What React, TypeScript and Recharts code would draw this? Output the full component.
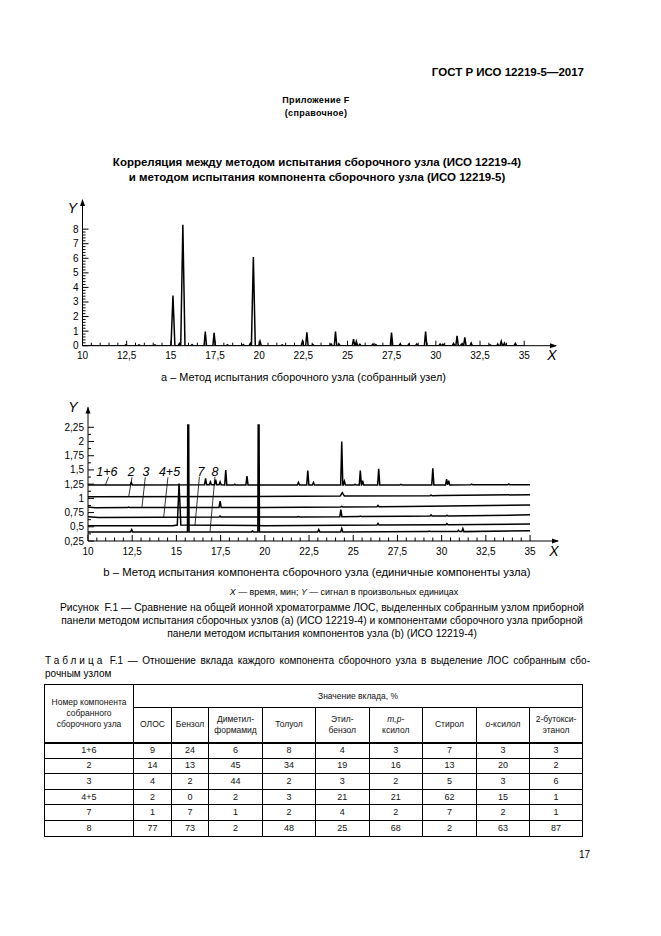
import React from 'react';
import { LineChart, Line, XAxis, YAxis, ReferenceDot, ReferenceLine } from 'recharts';

const FONT = '"Liberation Sans", Arial, Helvetica, sans-serif';

// ---------- рисунок a: собранный узел, пики [время, мин; сигнал; полуширина]
const peaksA: number[][] = [
  [12.45, 0.06], [13.2, 0.05], [14.1, 0.05], [15.12, 3.44, 0.11], [15.48, 0.15],
  [15.68, 8.3, 0.12], [16.2, 0.08], [16.95, 0.97], [17.45, 0.88], [18.2, 0.06],
  [19.1, 0.08], [19.5, 0.15], [19.67, 6.09, 0.11], [20.05, 0.3], [21.3, 0.05],
  [22.45, 0.3], [22.7, 0.92], [23.04, 0.08], [24.07, 0.12], [24.32, 0.97],
  [24.52, 0.1], [25.34, 0.45], [25.5, 0.3], [25.7, 0.1], [26.43, 0.1],
  [26.6, 0.08], [27.49, 0.9], [27.98, 0.12], [28.47, 0.1], [28.92, 0.12],
  [29.42, 0.97], [30.24, 0.12], [30.4, 0.1], [31.0, 0.15], [31.2, 0.67],
  [31.45, 0.1], [31.64, 0.57], [32.0, 0.18], [33.07, 0.06], [33.5, 0.08],
  [33.7, 0.3], [33.88, 0.18], [34.5, 0.15],
];

const xLabels = [10, 12.5, 15, 17.5, 20, 22.5, 25, 27.5, 30, 32.5, 35];
const yLabelsA = [0, 1, 2, 3, 4, 5, 6, 7, 8];
const yLabelsB = [0.25, 0.5, 0.75, 1, 1.25, 1.5, 1.75, 2, 2.25];

// ---------- рисунок b: единичные компоненты
// базовая линия [время; сигнал], пики [время; основание; вершина; полуширина; плато]
const base16 = [[10, 1.235], [20, 1.235], [35, 1.24]];
const peaks16 = [
  [12.45, 1.235, 1.28], [16.65, 1.238, 1.35], [16.92, 1.238, 1.29], [17.22, 1.238, 1.33],
  [17.47, 1.238, 1.29], [17.79, 1.235, 1.5], [18.3, 1.235, 1.25], [18.99, 1.235, 1.39],
  [21.9, 1.235, 1.28], [22.43, 1.235, 1.49], [22.75, 1.235, 1.28], [24.35, 1.235, 2.0],
  [24.5, 1.235, 1.3], [25.1, 1.235, 1.25], [25.4, 1.235, 1.49], [25.53, 1.235, 1.31],
  [26.44, 1.235, 1.52], [27.7, 1.236, 1.245], [29.5, 1.237, 1.53], [30.28, 1.237, 1.34],
  [30.4, 1.237, 1.31], [31.7, 1.238, 1.25], [33.8, 1.239, 1.255],
];
const base2 = [[10, 1.03], [22, 1.035], [30, 1.05], [35, 1.065]];
const peaks2 = [[24.38, 1.04, 1.1, 0.12], [29.4, 1.047, 1.056]];
const base3 = [[10, 0.85], [10.4, 0.836], [20, 0.84], [28, 0.855], [35, 0.885]];
const peaks3 = [[12.3, 0.838, 0.848], [17.47, 0.84, 0.95], [24.35, 0.848, 0.86], [26.4, 0.852, 0.875]];
const base45 = [[10, 0.675], [10.6, 0.665], [20, 0.67], [28, 0.685], [35, 0.71]];
const peaks45 = [
  [17.47, 0.67, 0.69], [21.9, 0.672, 0.68], [24.3, 0.678, 0.8], [25.4, 0.68, 0.69],
  [29.4, 0.69, 0.71], [30.3, 0.69, 0.705],
];
const base7 = [[10, 0.52], [14.8, 0.52], [20, 0.52], [30, 0.535], [35, 0.55]];
const peaks7 = [[15.15, 0.53, 1.26, 0.1], [26.4, 0.53, 0.56], [30.3, 0.535, 0.555]];
const base8 = [[10, 0.41], [20, 0.41], [30, 0.415], [35, 0.43]];
const peaks8 = [
  [12.47, 0.41, 0.45], [15.67, 0.41, 2.29, 0.02, 0.025], [19.3, 0.41, 0.425],
  [19.65, 0.41, 2.29, 0.02, 0.025], [23.05, 0.41, 0.45], [24.35, 0.41, 0.47],
  [29.3, 0.415, 0.425], [30.95, 0.415, 0.44], [31.2, 0.415, 0.47],
];

const traceNames = ['1+6', '2', '3', '4+5', '7', '8'];
const traceBases = [base16, base2, base3, base45, base7, base8];
const tracePeaks = [peaks16, peaks2, peaks3, peaks45, peaks7, peaks8];

// выноски: позиция подписи и отрезок до кривой
const callouts = [
  { tx: 11.07, ty: 1.465, x1: 11.17, y1: 1.38, x2: 10.98, y2: 1.235 },
  { tx: 12.45, ty: 1.465, x1: 12.49, y1: 1.37, x2: 12.3, y2: 1.03 },
  { tx: 13.28, ty: 1.465, x1: 13.24, y1: 1.37, x2: 13.05, y2: 0.84 },
  { tx: 14.61, ty: 1.465, x1: 14.52, y1: 1.37, x2: 14.28, y2: 0.67 },
  { tx: 16.39, ty: 1.465, x1: 16.3, y1: 1.38, x2: 16.05, y2: 0.525 },
  { tx: 17.18, ty: 1.465, x1: 17.18, y1: 1.38, x2: 16.9, y2: 0.415 },
];

// ---------- таблица F.1
const tableHeads = ['ОЛОС', 'Бензол', 'Диметил-|формамид', 'Толуол', 'Этил-|бензол', 'm,p-|ксилол', 'Стирол', 'o-ксилол', '2-бутокси-|этанол'];
const tableComps = ['1+6', '2', '3', '4+5', '7', '8'];
const tableValues = [
  [9, 24, 6, 8, 4, 3, 7, 3, 3],
  [14, 13, 45, 34, 19, 16, 13, 20, 2],
  [4, 2, 44, 2, 3, 2, 5, 3, 6],
  [2, 0, 2, 3, 21, 21, 62, 15, 1],
  [1, 7, 1, 2, 4, 2, 7, 2, 1],
  [77, 73, 2, 48, 25, 68, 2, 63, 87],
];
const colWidths = [89, 38, 37, 54, 53, 53.5, 53.5, 54, 53, 53];

type Pt = { x: number; y: number };

function buildA(peaks: number[][]): Pt[] {
  const pts: Pt[] = [{ x: 10, y: 0 }];
  peaks.forEach(([t, h, hw = 0.07]) => {
    pts.push({ x: t - hw, y: 0 }, { x: t, y: h }, { x: t + hw, y: 0 });
  });
  pts.push({ x: 35, y: 0 });
  return pts;
}

function buildB(base: number[][], peaks: number[][]): Pt[] {
  const pts: Pt[] = base.map(([x, y]) => ({ x, y }));
  peaks.forEach(([t, b, h, hw = 0.06, flat = 0]) => {
    pts.push({ x: t - flat - hw, y: b }, { x: t - flat, y: h });
    if (flat) pts.push({ x: t + flat, y: h });
    pts.push({ x: t + flat + hw, y: b });
  });
  return pts.sort((a, b) => a.x - b.x);
}

const fmt = (v: number) => String(v).replace('.', ',');

const xTicks = Array.from({ length: 51 }, (_, i) => 10 + i * 0.5);
const yTicksA = Array.from({ length: 41 }, (_, i) => Math.round(i * 2) / 10);
const yTicksB = Array.from({ length: 17 }, (_, i) => 0.25 + i * 0.125);

function XTick(props: any) {
  const { x, y, payload, big, small } = props;
  const v = payload.value;
  const major = xLabels.includes(v);
  return (
    <g>
      <line x1={x} x2={x} y1={y} y2={y - (major ? big : small)} stroke="#000" />
      {major && (
        <text x={x} y={y + 13.5} textAnchor="middle" fontSize={10} fontFamily={FONT} fill="#000">
          {fmt(v)}
        </text>
      )}
    </g>
  );
}

function YTick(props: any) {
  const { x, y, payload, labels, big, small } = props;
  const v = payload.value;
  const major = labels.includes(v);
  return (
    <g>
      <line x1={x} x2={x + (major ? big : small)} y1={y} y2={y} stroke="#000" />
      {major && (
        <text x={x - 4} y={y + 3.5} textAnchor="end" fontSize={10} fontFamily={FONT} fill="#000">
          {fmt(v)}
        </text>
      )}
    </g>
  );
}

function XArrow(props: any) {
  const { cx, cy } = props;
  return (
    <g>
      <polygon points={`${cx + 1},${cy} ${cx - 6},${cy - 2.5} ${cx - 6},${cy + 2.5}`} fill="#000" />
      <text x={cx - 4} y={cy + 14.5} textAnchor="middle" fontSize={14} fontStyle="italic" fontFamily={FONT} fill="#000">X</text>
    </g>
  );
}

function YArrow(props: any) {
  const { cx, cy, dx, dy } = props;
  return (
    <g>
      <polygon points={`${cx},${cy - 1} ${cx - 2.5},${cy + 6} ${cx + 2.5},${cy + 6}`} fill="#000" />
      <text x={cx + dx} y={cy + dy} textAnchor="middle" fontSize={14} fontStyle="italic" fontFamily={FONT} fill="#000">Y</text>
    </g>
  );
}

// оси с шириной/высотой 1 px: при 0 Recharts их не рисует
function ChartA() {
  const data = buildA(peaksA);
  return (
    <LineChart width={600} height={180} margin={{ top: 10, right: 44, bottom: 23.3, left: 81.5 }}>
      <XAxis
        type="number" dataKey="x" domain={[10, 36.8]} ticks={xTicks} interval={0} height={1}
        tickSize={0} tickMargin={0} tickLine={false} axisLine={{ stroke: '#000' }} allowDataOverflow
        tick={(p: any) => <XTick {...p} big={5} small={3} />}
      />
      <YAxis
        type="number" dataKey="y" domain={[0, 10]} ticks={yTicksA} interval={0} width={1}
        tickSize={0} tickMargin={0} tickLine={false} axisLine={{ stroke: '#000' }} allowDataOverflow
        tick={(p: any) => <YTick {...p} labels={yLabelsA} big={6} small={3} />}
      />
      <Line data={data} dataKey="y" type="linear" stroke="#000" strokeWidth={1.5} dot={false} isAnimationActive={false} />
      <ReferenceDot x={36.8} y={0} ifOverflow="visible" shape={(p: any) => <XArrow {...p} />} />
      <ReferenceDot x={10} y={10} ifOverflow="visible" shape={(p: any) => <YArrow {...p} dx={-10} dy={13} />} />
    </LineChart>
  );
}

function ChartB() {
  return (
    <LineChart width={600} height={170} margin={{ top: 9.4, right: 42, bottom: 26, left: 87 }}>
      <XAxis
        type="number" dataKey="x" domain={[10, 36.58]} ticks={xTicks} interval={0} height={1}
        tickSize={0} tickMargin={0} tickLine={false} axisLine={{ stroke: '#000' }} allowDataOverflow
        tick={(p: any) => <XTick {...p} big={6} small={3.5} />}
      />
      <YAxis
        type="number" dataKey="y" domain={[0.25, 2.6]} ticks={yTicksB} interval={0} width={1}
        tickSize={0} tickMargin={0} tickLine={false} axisLine={{ stroke: '#000' }} allowDataOverflow
        tick={(p: any) => <YTick {...p} labels={yLabelsB} big={6} small={3} />}
      />
      {traceNames.map((name, i) => (
        <Line
          key={name}
          name={name}
          data={buildB(traceBases[i], tracePeaks[i])}
          dataKey="y"
          type="linear"
          stroke="#000"
          strokeWidth={1.5}
          dot={false}
          isAnimationActive={false}
        />
      ))}
      {callouts.map((c, i) => (
        <ReferenceLine
          key={'l' + i}
          segment={[{ x: c.x1, y: c.y1 }, { x: c.x2, y: c.y2 }]}
          stroke="#000"
          strokeWidth={0.8}
          ifOverflow="visible"
        />
      ))}
      {callouts.map((c, i) => (
        <ReferenceDot
          key={'t' + i}
          x={c.tx}
          y={c.ty}
          ifOverflow="visible"
          shape={(p: any) => (
            <text x={p.cx} y={p.cy + 4.5} textAnchor="middle" fontSize={12.5} fontStyle="italic" fontFamily={FONT} fill="#000">
              {traceNames[i]}
            </text>
          )}
        />
      ))}
      <ReferenceDot x={36.58} y={0.25} ifOverflow="visible" shape={(p: any) => <XArrow {...p} />} />
      <ReferenceDot x={10} y={2.6} ifOverflow="visible" shape={(p: any) => <YArrow {...p} dx={-15} dy={5} />} />
    </LineChart>
  );
}

const line = (top: number, extra: React.CSSProperties): React.CSSProperties => ({
  position: 'absolute',
  top,
  whiteSpace: 'nowrap',
  ...extra,
});

const centered = (cx: number, w = 560): React.CSSProperties => ({ left: cx - w / 2, width: w, textAlign: 'center' });

const cell: React.CSSProperties = {
  border: '1px solid #000',
  padding: 0,
  textAlign: 'center',
  verticalAlign: 'middle',
  fontSize: 8.5,
  lineHeight: '11px',
  color: '#111',
};

function Table() {
  return (
    <table
      style={{
        position: 'absolute',
        left: 44,
        top: 684,
        width: 538,
        borderCollapse: 'collapse',
        tableLayout: 'fixed',
        fontFamily: FONT,
      }}
    >
      <colgroup>
        {colWidths.map((w, i) => (
          <col key={i} style={{ width: w }} />
        ))}
      </colgroup>
      <tbody>
        <tr style={{ height: 23 }}>
          <td rowSpan={2} style={cell}>
            Номер компонента
            <br />
            собранного
            <br />
            сборочного узла
          </td>
          <td colSpan={9} style={cell}>Значение вклада, %</td>
        </tr>
        <tr style={{ height: 35 }}>
          {tableHeads.map((h, i) => {
            const parts = h.split('|');
            return (
              <td key={i} style={{ ...cell, borderBottom: '2px solid #000' }}>
                {parts.map((s, j) => (
                  <React.Fragment key={j}>
                    {j > 0 && <br />}
                    {s.startsWith('m,p') ? (
                      <>
                        <i>m,p</i>-
                      </>
                    ) : s.startsWith('o-') ? (
                      <>
                        <i>o</i>-ксилол
                      </>
                    ) : (
                      s
                    )}
                  </React.Fragment>
                ))}
              </td>
            );
          })}
        </tr>
        {tableComps.map((c, r) => (
          <tr key={c} style={{ height: 15.6 }}>
            <td style={{ ...cell, fontSize: 9, borderTop: r === 0 ? '2px solid #000' : cell.border }}>{c}</td>
            {tableValues[r].map((v, j) => (
              <td key={j} style={{ ...cell, fontSize: 9 }}>
                {v}
              </td>
            ))}
          </tr>
        ))}
      </tbody>
    </table>
  );
}

export default function App() {
  return (
    <div
      style={{
        position: 'absolute',
        left: 0,
        top: 0,
        width: 661,
        height: 936,
        background: '#fff',
        fontFamily: FONT,
        color: '#000',
        overflow: 'hidden',
      }}
    >
      <div style={line(65, { right: 77, fontSize: 11.5, fontWeight: 'bold', lineHeight: '14px' })}>
        ГОСТ Р ИСО 12219-5—2017
      </div>
      <div style={line(94, { ...centered(316), fontSize: 9, fontWeight: 'bold', lineHeight: '13px', letterSpacing: 0.3 })}>
        Приложение F
        <br />
        (справочное)
      </div>
      <div style={line(155, { ...centered(317), fontSize: 11.5, fontWeight: 'bold', lineHeight: '15px' })}>
        Корреляция между методом испытания сборочного узла (ИСО 12219-4)
        <br />
        и методом испытания компонента сборочного узла (ИСО 12219-5)
      </div>

      <div style={{ position: 'absolute', left: 0, top: 190 }}>
        <ChartA />
      </div>
      <div style={line(370, { ...centered(303.5), fontSize: 10.9, lineHeight: '14px' })}>
        а – Метод испытания сборочного узла (собранный узел)
      </div>

      <div style={{ position: 'absolute', left: 0, top: 398 }}>
        <ChartB />
      </div>
      <div style={line(565, { ...centered(317), fontSize: 11.3, lineHeight: '14px' })}>
        b – Метод испытания компонента сборочного узла (единичные компоненты узла)
      </div>

      <div style={line(586, { ...centered(344), fontSize: 8.9, lineHeight: '12px' })}>
        <i>X</i> — время, мин; <i>Y</i> — сигнал в произвольных единицах
      </div>
      <div style={line(600.5, { ...centered(322, 620), fontSize: 10.3, lineHeight: '13px' })}>
        Рисунок&nbsp; F.1 — Сравнение на общей ионной хроматограмме ЛОС, выделенных собранным узлом приборной
        <br />
        панели методом испытания сборочных узлов (а) (ИСО 12219-4) и компонентами сборочного узла приборной
        <br />
        панели методом испытания компонентов узла (b) (ИСО 12219-4)
      </div>

      <div style={{ position: 'absolute', left: 45, top: 653.5, width: 545, fontSize: 10, lineHeight: '13px' }}>
        <div style={{ textAlign: 'justify', textAlignLast: 'justify', whiteSpace: 'normal' }}>
          <span style={{ letterSpacing: '0.3em' }}>Таблица</span> F.1 — Отношение вклада каждого компонента
          сборочного узла в выделение ЛОС собранным сбо-
        </div>
        <div>рочным узлом</div>
      </div>

      <Table />

      <div style={line(847.5, { right: 71, fontSize: 10, lineHeight: '13px' })}>17</div>
    </div>
  );
}
